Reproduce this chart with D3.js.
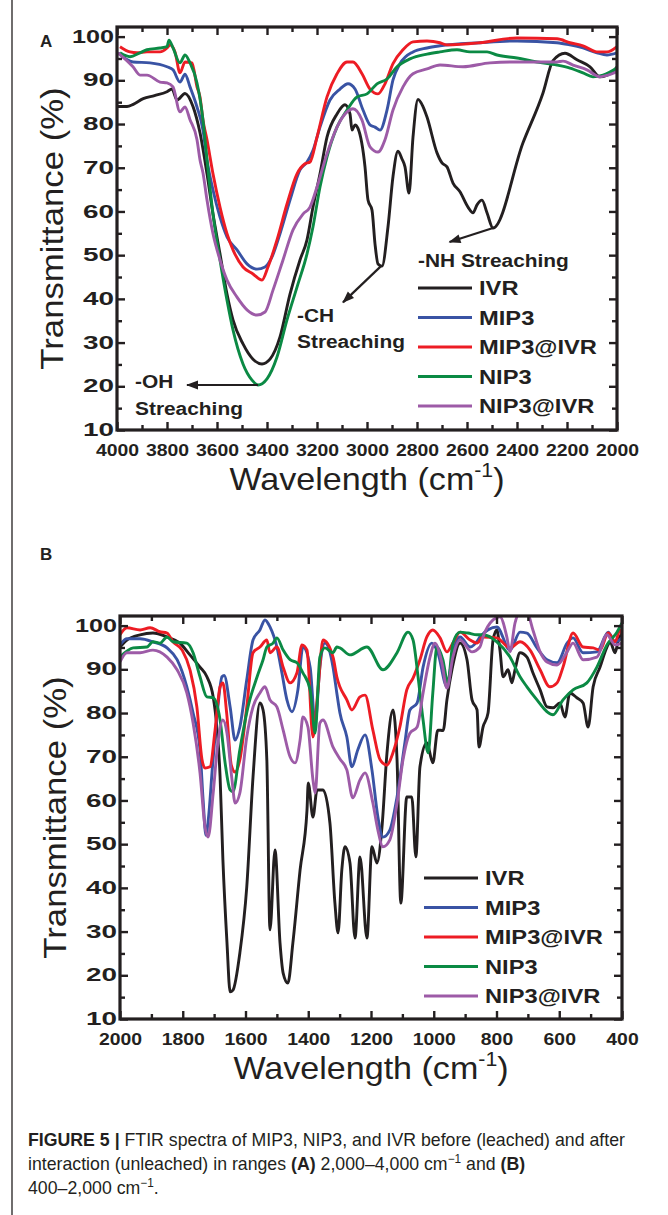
<!DOCTYPE html>
<html>
<head>
<meta charset="utf-8">
<title>FTIR spectra</title>
<script src="https://cdn.jsdelivr.net/npm/d3@7"></script>
<style>
  body { margin: 0; background: #fff; }
  svg text { font-family: "Liberation Sans", Arial, sans-serif; fill: #231f20; }
</style>
</head>
<body>
<script>
// ---- data (wavenumber cm-1, transmittance %) ----
var names = ["IVR", "MIP3", "MIP3@IVR", "NIP3", "NIP3@IVR"];
var colors = ["#231f20", "#3953a4", "#ed1c24", "#0b8a44", "#9d5ba7"];

// panel A: 4000 - 2000 cm-1
var ivrA = [[4000,84],[3960,84],[3935,84.5],[3895,85.8],[3850,86.5],[3800,87.4],[3780,88],[3760,85.5],[3728,87],[3696,84],[3668,78],[3640,68.6],[3616,59.4],[3588,50.3],[3560,41.1],[3536,35.2],[3496,29.7],[3456,26.2],[3420,25.1],[3388,26.2],[3348,31.3],[3308,41.1],[3268,48.9],[3240,53.5],[3216,61],[3188,68.6],[3160,77],[3120,82.3],[3088,84.4],[3068,82.3],[3060,78.6],[3048,79.8],[3036,79],[3008,70.2],[2996,62.6],[2980,60.3],[2968,52.6],[2956,48],[2940,47.5],[2916,56.5],[2896,68],[2876,73.8],[2860,72],[2848,70.2],[2832,64.2],[2816,77],[2796,85.6],[2776,84],[2760,81.6],[2720,73.4],[2700,71.1],[2680,70.2],[2656,66.5],[2628,64.5],[2596,61],[2576,59.7],[2560,61.5],[2540,62.6],[2520,59.7],[2496,56.2],[2376,75.7],[2296,87.1],[2256,94.5],[2208,96.2],[2160,94.7],[2108,93.1],[2068,90.8],[2040,91.2],[2016,92],[2000,93.1]];
var mip3A = [[3996,96.3],[3936,94.2],[3868,94],[3800,93.1],[3776,92.4],[3748,89.6],[3728,91.4],[3708,88.5],[3680,83.9],[3656,78.6],[3640,71.8],[3616,64.9],[3588,58.7],[3560,54.2],[3520,51.2],[3480,48],[3440,46.8],[3408,47.3],[3380,49.6],[3348,54.9],[3308,62.6],[3268,69.5],[3240,71.3],[3216,74],[3188,79.3],[3148,85.5],[3108,88],[3076,89.2],[3048,88],[3016,83.2],[2988,79.8],[2968,79.3],[2948,78.6],[2920,83.2],[2896,90.1],[2868,93.8],[2816,96.5],[2760,97.4],[2708,97.9],[2548,98.6],[2400,99],[2240,98.6],[2188,98.1],[2136,97.4],[2080,96.3],[2040,95.8],[2000,96.3]];
var mip3IvrA = [[3988,97.7],[3948,96.5],[3920,96.3],[3880,96.5],[3828,96.5],[3800,97.4],[3788,98.1],[3768,96.5],[3748,91.7],[3728,94.2],[3700,94],[3680,88.5],[3668,86.2],[3656,80.9],[3640,76.4],[3616,68.6],[3588,61],[3560,54.9],[3536,51.2],[3496,47.3],[3456,45.7],[3420,44.3],[3396,47.3],[3360,53.5],[3320,61.7],[3280,68.6],[3248,70.9],[3228,71.3],[3200,77],[3160,86.2],[3120,91.5],[3080,94.2],[3056,94.2],[3020,91.5],[2988,88],[2956,86.9],[2928,89.2],[2896,93.8],[2856,97],[2816,98.8],[2760,99],[2708,98.6],[2680,98.1],[2548,98.6],[2400,99.7],[2240,99.5],[2188,98.6],[2136,97.9],[2080,96.5],[2040,96.5],[2000,97.7]];
var nip3A = [[3988,96.3],[3948,95.4],[3908,96.3],[3880,97],[3828,97.4],[3800,97.7],[3792,99.2],[3776,97.4],[3748,94],[3728,95.8],[3708,94],[3680,89.4],[3656,80.9],[3640,71.8],[3616,59.4],[3588,48.9],[3560,39.7],[3536,32.9],[3496,25.1],[3460,21.4],[3436,20.3],[3400,21.7],[3360,26.7],[3320,35.2],[3280,42.7],[3240,50.3],[3216,56.5],[3188,65.6],[3160,72.5],[3120,79.3],[3080,83.2],[3040,86.2],[3000,86.9],[2960,89.2],[2920,90.3],[2880,93.1],[2828,94.9],[2760,96],[2708,96.5],[2640,97],[2588,96.5],[2520,96.5],[2480,95.8],[2400,95.1],[2320,94.2],[2240,93.5],[2188,92.8],[2136,91.7],[2096,90.8],[2056,91.2],[2000,92.8]];
var nip3IvrA = [[3996,96.3],[3936,93.1],[3908,91.2],[3880,91.2],[3828,89.6],[3800,89.4],[3776,88.5],[3748,82.8],[3728,83.9],[3708,81],[3680,76.4],[3668,71.8],[3656,68.8],[3640,62.6],[3616,54.9],[3588,48.9],[3560,44.3],[3520,40.4],[3480,37.5],[3440,36.3],[3408,37],[3376,42],[3336,48.9],[3296,55.8],[3256,59.4],[3228,61],[3200,65.6],[3160,73.2],[3120,79.3],[3080,82.8],[3056,83.5],[3020,80.9],[2988,74.8],[2956,73.6],[2928,76.4],[2896,83.2],[2856,88.5],[2816,91.5],[2760,92.6],[2708,93.5],[2616,93.1],[2508,94],[2400,94.2],[2240,94.2],[2216,94.4],[2176,93.5],[2120,92.4],[2068,90.8],[2036,91.2],[2000,92]];

// panel B: 2000 - 400 cm-1
var ivrB = [[2000,95.1],[1978,96.7],[1936,97.9],[1895,98.3],[1850,97.4],[1809,96],[1777,93.3],[1745,90.5],[1723,88.3],[1703,83.7],[1697,80.7],[1681,65.4],[1672,46.4],[1659,27.4],[1649,16.2],[1640,16.6],[1618,25.1],[1596,40.2],[1576,65.4],[1554,82.3],[1544,80.7],[1532,69.3],[1522,30.4],[1506,48.7],[1490,27.4],[1480,20.5],[1465,18.2],[1449,27.4],[1426,44.1],[1404,57.8],[1400,64],[1385,56.2],[1372,62.4],[1353,62.4],[1331,54.9],[1315,36.5],[1305,29.7],[1293,44.1],[1283,49.4],[1267,45.7],[1251,28.5],[1235,47.1],[1213,28.5],[1197,49.4],[1181,45.7],[1165,53.9],[1149,70.9],[1130,80.7],[1117,69.3],[1105,36.5],[1086,60.8],[1070,60.8],[1057,47.1],[1044,67.7],[1022,73.2],[1003,68.6],[987,76.1],[970,76],[958,83],[942,89.9],[916,96],[894,92.2],[878,83],[862,80.7],[856,72.2],[843,76.8],[827,80],[811,96.7],[799,99],[789,94.4],[779,88.3],[763,89.9],[751,86.9],[741,89.9],[725,93.8],[703,92.8],[684,89.2],[661,85.3],[639,81.4],[620,81.2],[598,82.3],[582,79.1],[566,84.6],[544,83.5],[524,82.3],[508,76.8],[492,86],[470,90.5],[448,95.1],[438,96.3],[422,93.8],[413,96.3],[400,98.3]];
var mip3B = [[2000,95.6],[1978,97],[1936,97],[1895,96.3],[1850,94.9],[1818,92.2],[1787,86],[1767,80],[1745,71.6],[1735,60],[1726,52],[1718,56],[1705,68],[1690,80],[1675,88.3],[1668,88.6],[1649,81.4],[1633,73.8],[1618,76.8],[1596,87.6],[1576,96.7],[1554,99],[1538,101.3],[1522,99.7],[1500,95.1],[1484,89.2],[1468,83],[1452,80.3],[1433,85.3],[1417,95.1],[1394,90.5],[1378,77.7],[1363,90.5],[1347,96],[1321,90.5],[1309,84.6],[1299,80],[1277,74.5],[1261,67.7],[1242,71.6],[1219,75],[1197,67],[1178,56.2],[1162,51.6],[1140,53.2],[1117,60.8],[1092,73.2],[1076,80.7],[1053,82.3],[1034,90.5],[1006,96],[987,93.8],[958,86],[939,93.8],[916,97.4],[884,95.1],[859,96.7],[853,97.4],[799,99.7],[757,94.4],[725,98.5],[703,98.3],[671,94.9],[639,92.2],[607,91.5],[575,96],[556,97.2],[524,93.8],[480,94],[444,98.5],[422,96.3],[400,97.2]];
var mip3IvrB = [[2000,97.9],[1978,99.5],[1936,99],[1904,99.5],[1873,98.6],[1850,98.3],[1831,96.3],[1802,94.4],[1777,89.9],[1755,81.4],[1739,69.5],[1729,67.4],[1713,67.7],[1697,76.1],[1681,86],[1672,86.9],[1660,80],[1645,68],[1633,66.5],[1618,69.3],[1596,81.4],[1576,93.8],[1554,95.1],[1532,96.7],[1522,93.8],[1500,95.1],[1480,90.5],[1458,86.9],[1436,89.2],[1420,95.6],[1404,94.4],[1385,74.5],[1369,85.3],[1353,96.7],[1321,92.8],[1309,88.3],[1277,83],[1261,80.7],[1235,83.7],[1219,84.1],[1194,76.1],[1171,69.3],[1149,68.1],[1130,70.9],[1108,76.8],[1086,85.3],[1066,88],[1044,92.2],[1022,97.4],[1003,99],[980,97.2],[958,94],[939,96],[916,98.5],[884,96.7],[862,96],[843,97.4],[799,97.2],[757,94.9],[725,96.3],[693,94.4],[661,89.9],[630,86],[607,86.9],[588,90.5],[556,98.3],[524,95.1],[492,94.9],[470,94.4],[444,98.3],[422,96.3],[406,99],[400,98]];
var nip3B = [[2000,92.8],[1958,94.9],[1914,95.1],[1895,96.3],[1873,96],[1850,97.4],[1831,96.3],[1787,96],[1767,93.8],[1745,88.3],[1723,83.7],[1703,83.5],[1681,78.4],[1665,68.6],[1649,62.4],[1640,62],[1618,71.6],[1592,81.4],[1563,88.3],[1544,92.2],[1532,95.1],[1512,96],[1500,97.2],[1480,94.4],[1458,92.2],[1436,91.5],[1417,89.2],[1394,85.3],[1378,75.4],[1363,92.8],[1347,94.9],[1321,93.8],[1309,95.1],[1299,94.9],[1267,93.3],[1213,95.1],[1162,89.9],[1117,93.8],[1082,98.5],[1066,96.7],[1050,88.3],[1034,78.4],[1018,70.9],[1003,84.6],[990,95.1],[971,92.2],[955,86.9],[939,96],[916,98.5],[891,98.3],[862,97.9],[843,97.9],[799,96.3],[757,92.8],[725,88.3],[703,86],[671,83],[639,80.3],[620,79.6],[588,83],[556,85.3],[512,86.9],[480,90.5],[448,95.6],[416,98.5],[400,100.6]];
var nip3IvrB = [[2000,91.7],[1978,93.8],[1936,93.8],[1895,94.4],[1850,92.8],[1818,89.9],[1787,84.6],[1767,77.7],[1745,66.3],[1729,53.9],[1719,51.6],[1703,61.7],[1688,73.2],[1672,78.4],[1659,75.4],[1643,64.7],[1633,59.4],[1618,61.7],[1596,74.5],[1576,81.4],[1554,84.6],[1538,86],[1522,83],[1500,81.4],[1480,76.1],[1458,70],[1442,68.6],[1426,73.8],[1417,79.1],[1401,76.8],[1385,64.7],[1378,61.7],[1363,77.7],[1353,78.4],[1321,72.2],[1299,69.5],[1277,67],[1258,60.6],[1235,64.7],[1219,66.3],[1194,59.4],[1178,53.2],[1162,49.4],[1140,51],[1117,59.4],[1098,69.3],[1076,75.4],[1053,76.8],[1034,84.6],[1012,92.8],[996,96],[974,91.5],[958,85.7],[939,92.8],[916,96.7],[878,94],[853,95.1],[843,97.4],[811,101.3],[789,102],[767,97.4],[757,94],[741,100.6],[725,103],[703,103],[684,99],[661,94],[639,91.7],[607,91],[575,94],[556,96],[524,92.2],[480,92.8],[448,97.9],[422,95.6],[400,96]];

var yTicks = [10, 20, 30, 40, 50, 60, 70, 80, 90, 100];
var xTicksA = [4000, 3800, 3600, 3400, 3200, 3000, 2800, 2600, 2400, 2200, 2000];
var xTicksB = [2000, 1800, 1600, 1400, 1200, 1000, 800, 600, 400];

var ink = "#231f20";
var W = 668, H = 1215;

var svg = d3.select("body").append("svg")
  .attr("width", W)
  .attr("height", H);

// left rule of the page box
svg.append("line")
  .attr("x1", 12).attr("x2", 12).attr("y1", 0).attr("y2", H)
  .attr("stroke", ink).attr("stroke-width", 1.3);

var defs = svg.append("defs");
defs.append("marker")
  .attr("id", "arrow")
  .attr("viewBox", "0 -5 12 10")
  .attr("refX", 11).attr("refY", 0)
  .attr("markerUnits", "userSpaceOnUse")
  .attr("markerWidth", 13).attr("markerHeight", 10)
  .attr("orient", "auto")
  .append("path").attr("d", "M0,-4.5L12,0L0,4.5Z").attr("fill", ink);

// stretch a text horizontally to k times its natural width
function widen(sel, k) {
  sel.each(function() {
    var w = this.getComputedTextLength();
    d3.select(this).attr("textLength", w * k).attr("lengthAdjust", "spacingAndGlyphs");
  });
}

function panel(p) {
  var x = d3.scaleLinear().domain([p.xTicks[0], p.xTicks[p.xTicks.length - 1]]).range([p.left, p.right]);
  var y = d3.scaleLinear().domain([10, 102.2]).range([p.bottom, p.top]);
  var g = svg.append("g");

  defs.append("clipPath").attr("id", "clip" + p.id)
    .append("rect")
    .attr("x", p.left).attr("y", p.top)
    .attr("width", p.right - p.left).attr("height", p.bottom - p.top);

  var line = d3.line()
    .x(function(d) { return x(d[0]); })
    .y(function(d) { return y(d[1]); })
    .curve(d3.curveMonotoneX);

  g.append("g").attr("clip-path", "url(#clip" + p.id + ")")
    .selectAll("path")
    .data(p.series)
    .enter()
    .append("path")
    .attr("d", line)
    .attr("fill", "none")
    .attr("stroke", function(d, i) { return colors[i]; })
    .attr("stroke-width", 2.9)
    .attr("stroke-linejoin", "round");

  // minor tick positions
  var step = p.xTicks[0] - p.xTicks[1];
  var xMinor = p.xTicks.slice(1).map(function(v) { return v + step / 2; });
  var yMinor = yTicks.slice(1).map(function(v) { return v - 5; });

  function ticks(axis, vals, size, tr) {
    var a = g.append("g").attr("transform", tr)
      .call(axis.tickValues(vals).tickSizeInner(size).tickSizeOuter(0).tickFormat(""));
    a.select(".domain").remove();
    a.selectAll("text").remove();
    a.selectAll("line").attr("stroke", ink).attr("stroke-width", 2.4);
    return a;
  }
  ticks(d3.axisBottom(x), xMinor, -5, "translate(0," + p.bottom + ")");
  ticks(d3.axisTop(x), xMinor, -5, "translate(0," + p.top + ")");
  ticks(d3.axisTop(x), p.xTicks, -8, "translate(0," + p.top + ")");
  ticks(d3.axisLeft(y), yMinor, -5, "translate(" + p.left + ",0)");
  ticks(d3.axisRight(y), yMinor, -5, "translate(" + p.right + ",0)");
  ticks(d3.axisRight(y), yTicks, -8, "translate(" + p.right + ",0)");

  var bx = g.append("g").attr("transform", "translate(0," + p.bottom + ")")
    .call(d3.axisBottom(x).tickValues(p.xTicks).tickSizeInner(-8).tickSizeOuter(0).tickPadding(14).tickFormat(d3.format("d")));
  bx.select(".domain").remove();
  bx.selectAll("line").attr("stroke", ink).attr("stroke-width", 2.4);
  bx.selectAll("text")
    .attr("font-family", "'Liberation Sans', Arial, sans-serif")
    .attr("font-size", 17).attr("font-weight", "bold").attr("fill", ink)
    .attr("textLength", function(d) { return String(d).length * 10.8; })
    .attr("lengthAdjust", "spacingAndGlyphs");

  var ly = g.append("g").attr("transform", "translate(" + p.left + ",0)")
    .call(d3.axisLeft(y).tickValues(yTicks).tickSizeInner(-8).tickSizeOuter(0).tickPadding(3).tickFormat(d3.format("d")));
  ly.select(".domain").remove();
  ly.selectAll("line").attr("stroke", ink).attr("stroke-width", 2.4);
  ly.selectAll("text")
    .attr("font-family", "'Liberation Sans', Arial, sans-serif")
    .attr("font-size", 17.5).attr("font-weight", "bold").attr("fill", ink)
    .attr("textLength", function(d) { return String(d).length * 11 + 9; })
    .attr("lengthAdjust", "spacingAndGlyphs");

  // frame
  g.append("rect")
    .attr("x", p.left).attr("y", p.top)
    .attr("width", p.right - p.left).attr("height", p.bottom - p.top)
    .attr("fill", "none").attr("stroke", ink).attr("stroke-width", 3.2);

  // panel letter
  g.append("text").attr("x", 40).attr("y", p.letterY)
    .attr("font-size", 17).attr("font-weight", "bold").text(p.id);

  // axis titles
  var yt = g.append("text")
    .attr("transform", "translate(" + p.yTitleX + "," + (p.top + p.bottom) / 2 + ") rotate(-90)")
    .attr("text-anchor", "middle")
    .attr("font-size", 32)
    .text("Transmittance (%)");
  widen(yt, 1.085);

  var cx = (p.left + p.right) / 2;
  var xt = g.append("text")
    .attr("x", cx).attr("y", p.xTitleY)
    .attr("text-anchor", "middle")
    .attr("font-size", 32);
  xt.append("tspan").text("Wavelength (cm");
  xt.append("tspan").attr("font-size", 20).attr("dy", -13).text("-1");
  xt.append("tspan").attr("dy", 13).text(")");
  xt.attr("transform", "translate(" + cx + ",0) scale(1.065,1) translate(" + (-cx) + ",0)");

  // legend
  var lg = g.append("g");
  names.forEach(function(n, i) {
    var ly0 = p.legY + i * 29.5;
    lg.append("line")
      .attr("x1", p.legX).attr("x2", p.legX + 54)
      .attr("y1", ly0).attr("y2", ly0)
      .attr("stroke", colors[i]).attr("stroke-width", 3.2);
    var t = lg.append("text")
      .attr("x", p.legX + 61).attr("y", ly0 + 7)
      .attr("font-size", 20).attr("font-weight", "bold")
      .text(n);
    widen(t, 1.185);
  });

  return { x: x, y: y, g: g };
}

var A = panel({
  id: "A", series: [ivrA, mip3A, mip3IvrA, nip3A, nip3IvrA], xTicks: xTicksA,
  left: 117, right: 617, top: 27, bottom: 430,
  letterY: 47, yTitleX: 63, xTitleY: 490, legX: 418, legY: 288
});
var B = panel({
  id: "B", series: [ivrB, mip3B, mip3IvrB, nip3B, nip3IvrB], xTicks: xTicksB,
  left: 120, right: 622, top: 616, bottom: 1019,
  letterY: 560, yTitleX: 66, xTitleY: 1079, legX: 424, legY: 878
});

// annotations in panel A (data coordinates)
var notes = [
  { from: [3436, 20.3], to: [3720, 20.3], lines: ["-OH", "Streaching"], tx: 3928, ty: [388, 415] },
  { from: [2944, 47.5], to: [3096, 39.2], lines: ["-CH", "Streaching"], tx: 3280, ty: [322, 348] },
  { from: [2496, 56.2], to: [2670, 53], lines: ["-NH Streaching"], tx: 2796, ty: [267] }
];
notes.forEach(function(n) {
  A.g.append("line")
    .attr("x1", A.x(n.from[0])).attr("y1", A.y(n.from[1]))
    .attr("x2", A.x(n.to[0])).attr("y2", A.y(n.to[1]))
    .attr("stroke", ink).attr("stroke-width", 2.2)
    .attr("marker-end", "url(#arrow)");
  n.lines.forEach(function(s, i) {
    var t = A.g.append("text")
      .attr("x", A.x(n.tx)).attr("y", n.ty[i])
      .attr("font-size", 18).attr("font-weight", "bold")
      .text(s);
    widen(t, 1.16);
  });
});

// caption
var cap = svg.append("g");
var c1 = cap.append("text").attr("x", 28).attr("y", 1146).attr("font-size", 18);
c1.append("tspan").attr("font-weight", "bold").text("FIGURE 5 | ");
c1.append("tspan").text("FTIR spectra of MIP3, NIP3, and IVR before (leached) and after");
var c2 = cap.append("text").attr("x", 28).attr("y", 1170).attr("font-size", 18);
c2.append("tspan").text("interaction (unleached) in ranges ");
c2.append("tspan").attr("font-weight", "bold").text("(A)");
c2.append("tspan").text(" 2,000\u20134,000 cm");
c2.append("tspan").attr("font-size", 12).attr("dy", -7).text("\u22121");
c2.append("tspan").attr("dy", 7).text(" and ");
c2.append("tspan").attr("font-weight", "bold").text("(B)");
var c3 = cap.append("text").attr("x", 28).attr("y", 1194).attr("font-size", 18);
c3.append("tspan").text("400\u20132,000 cm");
c3.append("tspan").attr("font-size", 12).attr("dy", -7).text("\u22121");
c3.append("tspan").attr("dy", 7).text(".");

var k = 597 / c1.node().getBBox().width;
[c1, c2, c3].forEach(function(t) {
  t.attr("transform", "translate(28,0) scale(" + k + ",1) translate(-28,0)");
});
</script>
</body>
</html>
